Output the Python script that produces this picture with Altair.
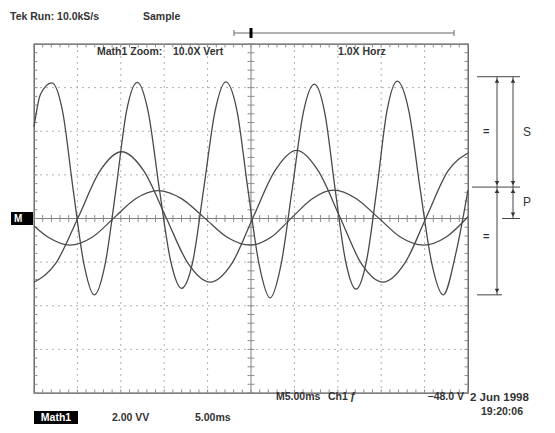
import altair as alt
import pandas as pd

# ---------------- data (graticule divisions: x 0..10, y -4..4) ----------------
# Math1 (zoomed 10x vert) - large fast wave
big_x = [0.00, 0.15, 0.41, 0.66, 0.90, 1.15, 1.39, 1.64, 1.89, 2.13, 2.38, 2.63, 2.89,
         3.15, 3.40, 3.66, 3.91, 4.17, 4.42, 4.68, 4.93, 5.19, 5.44, 5.69, 5.95, 6.21,
         6.46, 6.70, 6.94, 7.18, 7.42, 7.66, 7.90, 8.13, 8.37, 8.64, 8.90, 9.17, 9.43,
         9.72, 10.00]
big_y = [2.10, 2.85, 3.11, 2.45, 0.68, -1.04, -1.75, -1.04, 0.68, 2.45, 3.12, 2.45, 0.66,
         -0.98, -1.60, -0.98, 0.68, 2.45, 3.13, 2.45, 0.66, -1.07, -1.82, -1.07, 0.68, 2.45,
         3.08, 2.42, 0.66, -0.98, -1.62, -0.98, 0.68, 2.45, 3.15, 2.45, 0.66, -1.05, -1.75,
         -0.80, 0.65]

# medium slow wave
mid_x = [0.00, 0.50, 1.02, 1.52, 2.02, 2.53, 3.04, 3.55, 4.06, 4.56, 5.05, 5.55, 6.05,
         6.55, 7.05, 7.54, 8.04, 8.54, 9.04, 9.54, 10.00]
mid_y = [-1.46, -1.03, 0.03, 1.09, 1.53, 1.09, 0.03, -1.03, -1.46, -1.03, 0.03, 1.09, 1.56,
         1.09, 0.03, -1.03, -1.46, -1.03, 0.03, 1.09, 1.50]

# small slow wave
small_x = [0.00, 0.33, 0.83, 1.34, 1.85, 2.35, 2.86, 3.39, 3.92, 4.45, 4.98, 5.46, 5.94,
           6.42, 6.90, 7.42, 7.93, 8.45, 8.97, 9.49, 10.00]
small_y = [-0.17, -0.43, -0.61, -0.43, 0.02, 0.46, 0.64, 0.46, 0.02, -0.43, -0.61, -0.43, 0.02,
           0.46, 0.65, 0.46, 0.02, -0.43, -0.61, -0.43, 0.04]

# S / P measurement levels (divisions)
s_top = 3.25
s_mid = 0.72
s_bot = -1.75
p_zero = 0.0

grid_x = [1, 2, 3, 4, 6, 7, 8, 9]
grid_y = [-3, -2, -1, 1, 2, 3]

# ---------------- styling ----------------
W, H = 434, 349
FONT = "Liberation Sans"
TXT = "#333333"
TRACE = "#4a4a4a"

xs = alt.Scale(domain=[0, 10], nice=False, zero=False)
ys = alt.Scale(domain=[-4, 4], nice=False, zero=False)
X = lambda f: alt.X(f, type="quantitative", scale=xs, axis=None)
Y = lambda f: alt.Y(f, type="quantitative", scale=ys, axis=None)

one = pd.DataFrame({"a": [0]})

# grid
gx = alt.Chart(pd.DataFrame({"x": grid_x})).mark_rule(
    color="#b0b0b0", strokeDash=[2, 4], strokeWidth=1).encode(x=X("x"))
gy = alt.Chart(pd.DataFrame({"y": grid_y})).mark_rule(
    color="#b0b0b0", strokeDash=[2, 4], strokeWidth=1).encode(y=Y("y"))
cx = alt.Chart(pd.DataFrame({"x": [5]})).mark_rule(color="#808080", strokeWidth=1).encode(x=X("x"))
cy = alt.Chart(pd.DataFrame({"y": [0]})).mark_rule(color="#808080", strokeWidth=1).encode(y=Y("y"))

# graticule minor ticks (structure, not data)
segs = []
for i in range(51):
    v = i * 0.2
    segs.append((v, v, -0.08, 0.08))      # horizontal centre line
    segs.append((v, v, 4.0, 3.92))        # top border
    segs.append((v, v, -4.0, -3.92))      # bottom border
for i in range(41):
    v = -4 + i * 0.2
    segs.append((4.92, 5.08, v, v))       # vertical centre line
    segs.append((0.0, 0.08, v, v))        # left border
    segs.append((9.92, 10.0, v, v))       # right border
tick_df = pd.DataFrame(segs, columns=["x", "x2", "y", "y2"])
ticks = alt.Chart(tick_df).mark_rule(color="#8c8c8c", strokeWidth=1).encode(
    x=X("x"), x2="x2", y=Y("y"), y2="y2")

# traces
tr = pd.concat([
    pd.DataFrame({"x": big_x, "y": big_y, "t": "math1"}),
    pd.DataFrame({"x": mid_x, "y": mid_y, "t": "ch_a"}),
    pd.DataFrame({"x": small_x, "y": small_y, "t": "ch_b"}),
])
traces = alt.Chart(tr).mark_line(interpolate="monotone", strokeWidth=1.3, color=TRACE).encode(
    x=X("x"), y=Y("y"), detail="t:N")


def label(t, x, y, size=10.5, align="left", color=TXT, weight="bold"):
    return alt.Chart(one).mark_text(
        text=t, align=align, baseline="middle", fontSize=size, font=FONT,
        fontWeight=weight, color=color).encode(x=alt.value(x), y=alt.value(y))


def box(x, x2, y, y2, color="black"):
    return alt.Chart(one).mark_rect(color=color).encode(
        x=alt.value(x), x2=alt.value(x2), y=alt.value(y), y2=alt.value(y2))


def hline(x, x2, y, color="#444", w=1):
    return alt.Chart(one).mark_rule(color=color, strokeWidth=w).encode(
        x=alt.value(x), x2=alt.value(x2), y=alt.value(y))


# S / P annotation (right side) - vertical positions through the y scale
ann_h = pd.DataFrame({"y": [s_top, s_mid, s_bot, p_zero],
                      "xa": [443, 438, 443, 468], "xb": [486, 486, 468, 486]})
ann_hl = alt.Chart(ann_h).mark_rule(color="#444", strokeWidth=1).encode(
    x=alt.X("xa:Q", scale=None), x2="xb:Q", y=Y("y"))
ann_v = pd.DataFrame({"y": [s_top, s_mid, s_top, s_mid],
                      "y2": [s_mid, s_bot, s_mid, p_zero],
                      "xp": [463, 463, 479, 479]})
ann_vl = alt.Chart(ann_v).mark_rule(color="#444", strokeWidth=1).encode(
    x=alt.X("xp:Q", scale=None), y=Y("y"), y2="y2")
up = pd.DataFrame({"y": [s_top, s_mid, s_top, s_mid], "xp": [463, 463, 479, 479]})
dn = pd.DataFrame({"y": [s_mid, s_bot, s_mid, p_zero], "xp": [463, 463, 479, 479]})
arr_up = alt.Chart(up).mark_point(shape="triangle-up", filled=True, size=22, color="#333",
                                  opacity=1, yOffset=4).encode(
    x=alt.X("xp:Q", scale=None), y=Y("y"))
arr_dn = alt.Chart(dn).mark_point(shape="triangle-down", filled=True, size=22, color="#333",
                                  opacity=1, yOffset=-4).encode(
    x=alt.X("xp:Q", scale=None), y=Y("y"))

layers = [gx, gy, cx, cy, ticks, traces, ann_hl, ann_vl, arr_up, arr_dn,
          # top texts
          label("Tek Run: 10.0kS/s", -24, -27),
          label("Sample", 109, -27),
          # trigger position bar
          hline(200, 420, -11, color="#666"),
          alt.Chart(one).mark_rule(color="#666").encode(x=alt.value(200), y=alt.value(-14), y2=alt.value(-8)),
          alt.Chart(one).mark_rule(color="#666").encode(x=alt.value(420), y=alt.value(-14), y2=alt.value(-8)),
          box(215.5, 218.5, -16, -6),
          # in-screen header
          label("Math1 Zoom:", 63, 8),
          label("10.0X Vert", 139, 8),
          label("1.0X Horz", 304, 8),
          # ground marker
          box(-23, -1, 168, 181),
          label("M", -20, 174.5, color="white", size=10),
          # annotation labels
          label("=", 449, 88, size=11),
          label("=", 449, 193, size=11),
          label("S", 489, 88, size=12, weight="normal"),
          label("P", 489, 158, size=12, weight="normal"),
          # bottom texts
          label("M5.00ms", 242, 353),
          label("Ch1", 294, 353),
          label("ƒ", 316, 353),
          label("\u221248.0 V", 430, 353, align="right"),
          label("2 Jun 1998", 436, 354, size=11.5),
          label("19:20:06", 447, 368),
          box(0, 44, 367, 380),
          label("Math1", 22, 373.5, align="center", color="white"),
          label("2.00 VV", 78, 373.5),
          label("5.00ms", 161, 373.5),
          ]

chart = alt.layer(*layers).properties(
    width=W, height=H,
    autosize=alt.AutoSizeParams(type="none"),
    padding={"left": 26, "top": 36, "right": 79, "bottom": 32},
    background="white",
).configure_view(stroke="#555", strokeWidth=1.3)

chart.save("out.html", embed_options={"renderer": "svg", "actions": False})
